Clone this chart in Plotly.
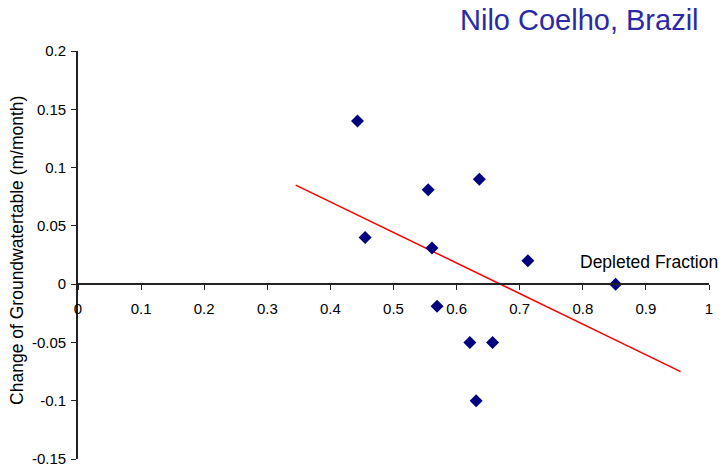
import plotly.graph_objects as go

# Data
depleted_fraction = [0.443, 0.455, 0.555, 0.561, 0.569, 0.636, 0.621, 0.657, 0.631, 0.713, 0.852]
gw_change = [0.140, 0.040, 0.081, 0.031, -0.019, 0.090, -0.050, -0.050, -0.100, 0.020, 0.000]

trend_x = [0.345, 0.955]
trend_y = [0.085, -0.075]

x_ticks = [0, 0.1, 0.2, 0.3, 0.4, 0.5, 0.6, 0.7, 0.8, 0.9, 1]
x_tick_labels = ["0", "0.1", "0.2", "0.3", "0.4", "0.5", "0.6", "0.7", "0.8", "0.9", "1"]
y_ticks = [-0.15, -0.1, -0.05, 0, 0.05, 0.1, 0.15, 0.2]
y_tick_labels = ["-0.15", "-0.1", "-0.05", "0", "0.05", "0.1", "0.15", "0.2"]

FONT = "Liberation Sans, Arial, sans-serif"

fig = go.Figure()
fig.add_trace(go.Scatter(
    x=trend_x, y=trend_y, mode="lines",
    line=dict(color="#ff0000", width=1.5), showlegend=False, hoverinfo="skip"))
fig.add_trace(go.Scatter(
    x=depleted_fraction, y=gw_change, mode="markers",
    marker=dict(symbol="diamond", size=10, color="#000080"),
    showlegend=False))

ymin, ymax = -0.15, 0.2
zero_pos = (0 - ymin) / (ymax - ymin)

fig.update_layout(
    width=724, height=468,
    margin=dict(l=78, r=15, t=51, b=9),
    paper_bgcolor="white", plot_bgcolor="white",
    font=dict(family=FONT, color="#000000"),
    xaxis=dict(
        range=[0, 1], tickvals=x_ticks, ticktext=x_tick_labels,
        showgrid=False, zeroline=False, showline=True,
        linecolor="#222222", linewidth=1.8,
        ticks="outside", ticklen=5, tickcolor="#222222",
        tickfont=dict(size=15, family=FONT),
        ticklabelstandoff=6,
        anchor="free", position=zero_pos, automargin=False,
    ),
    yaxis=dict(
        range=[ymin, ymax], tickvals=y_ticks, ticktext=y_tick_labels,
        showgrid=False, zeroline=False, showline=True,
        linecolor="#222222", linewidth=1.8,
        ticks="outside", ticklen=5, tickcolor="#222222",
        tickfont=dict(size=15, family=FONT),
        ticklabelstandoff=2, automargin=False,
    ),
    annotations=[
        dict(text="Nilo Coelho, Brazil", xref="paper", yref="paper",
             x=0.987, y=1.076, xanchor="right", yanchor="middle",
             showarrow=False, font=dict(size=29, color="#2a2aa8", family=FONT)),
        dict(text="Depleted Fraction", xref="paper", yref="paper",
             x=1.018, y=0.483, xanchor="right", yanchor="middle",
             showarrow=False, font=dict(size=17.5, color="#000000", family=FONT)),
        dict(text="Change of Groundwatertable (m/month)", xref="paper", yref="paper",
             x=-0.097, y=0.512, xanchor="center", yanchor="middle", textangle=-90,
             showarrow=False, font=dict(size=17.5, color="#000000", family=FONT)),
    ],
)

fig.write_html("out.html")
